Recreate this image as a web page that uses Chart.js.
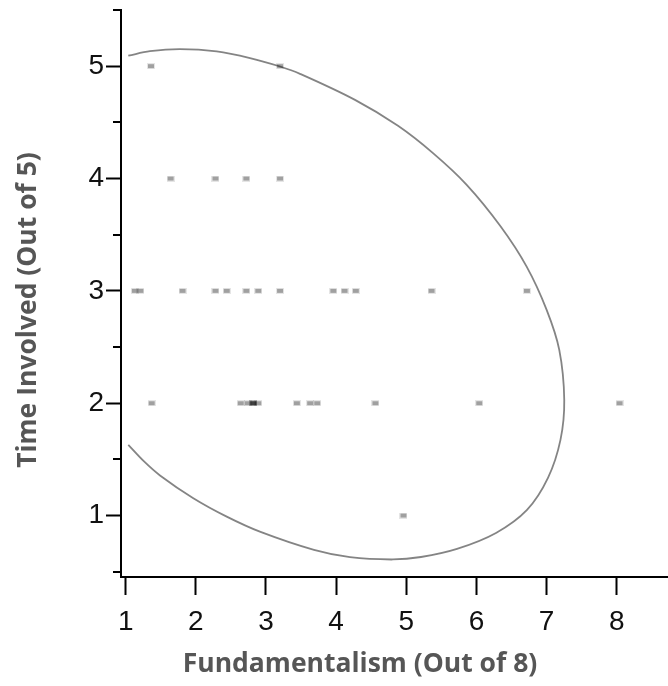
<!DOCTYPE html>
<html><head><meta charset="utf-8">
<script src="https://cdn.jsdelivr.net/npm/chart.js@4.4.1/dist/chart.umd.min.js"></script>
<style>html,body{margin:0;padding:0;background:#fff}canvas{display:block}</style>
</head><body>
<canvas id="c" width="668" height="686"></canvas>
<script>
const xTitle = 'Fundamentalism (Out of 8)';
const yTitle = 'Time Involved (Out of 5)';
const xTickValues = [1, 2, 3, 4, 5, 6, 7, 8];
const yTickValues = [1, 2, 3, 4, 5];
const yMinorTickValues = [0.5, 1.5, 2.5, 3.5, 4.5, 5.5];

// observations
const fundamentalism = [
  1.36, 3.20,
  1.64, 2.28, 2.72, 3.20,
  1.13, 1.21, 1.81, 2.28, 2.44, 2.72, 2.89, 3.20, 3.96, 4.12, 4.28, 5.36, 6.72,
  1.37, 2.64, 2.74, 2.82, 2.82, 2.82, 2.89, 3.44, 3.63, 3.73, 4.56, 6.04, 8.04,
  4.96
];
const timeInvolved = [
  5, 5,
  4, 4, 4, 4,
  3, 3, 3, 3, 3, 3, 3, 3, 3, 3, 3, 3, 3,
  2, 2, 2, 2, 2, 2, 2, 2, 2, 2, 2, 2, 2,
  1
];

// ellipse outline
const ellipseX = [1.037, 1.346, 1.774, 2.297, 2.772, 3.200, 3.485, 4.269, 4.882, 5.381, 5.861, 6.346, 6.716, 7.001, 7.181, 7.252, 7.198, 7.020, 6.721, 6.279, 5.723, 5.210, 4.810, 4.197, 3.684, 2.922, 2.440, 1.964, 1.489, 1.254, 1.037];
const ellipseY = [5.093, 5.133, 5.152, 5.131, 5.072, 4.997, 4.932, 4.700, 4.469, 4.226, 3.944, 3.573, 3.216, 2.831, 2.475, 2.029, 1.673, 1.335, 1.050, 0.845, 0.703, 0.631, 0.609, 0.629, 0.694, 0.854, 0.990, 1.154, 1.357, 1.486, 1.629];

const pointImg = document.createElement('canvas');
pointImg.width = 8; pointImg.height = 6;
(function(){
  const g = pointImg.getContext('2d');
  g.fillStyle = 'rgba(0,0,0,0.10)'; g.fillRect(0,0,8,6);
  g.fillStyle = 'rgba(0,0,0,0.30)'; g.fillRect(1,1,6,4);
})();

const decor = {
  id: 'decor',
  afterDraw(chart) {
    const {ctx} = chart;
    const ys = chart.scales.y;
    ctx.save();
    ctx.strokeStyle = '#000'; ctx.lineWidth = 2;
    yMinorTickValues.forEach(v => {
      const py = Math.round(ys.getPixelForValue(v));
      ctx.beginPath(); ctx.moveTo(chart.chartArea.left - 8, py); ctx.lineTo(chart.chartArea.left, py); ctx.stroke();
    });
    ctx.fillStyle = '#565656';
    ctx.font = 'bold 26.5px "Open Sans"';
    ctx.textAlign = 'center'; ctx.textBaseline = 'middle';
    ctx.fillText(xTitle, 360, 664);
    ctx.translate(28, 310); ctx.rotate(-Math.PI / 2);
    ctx.fillText(yTitle, 0, 0);
    ctx.restore();
  }
};

const tickFont = {family: '"Liberation Sans", Arial, sans-serif', size: 28};

new Chart(document.getElementById('c'), {
  type: 'scatter',
  data: {
    datasets: [
      {
        data: fundamentalism.map((x, i) => ({x, y: timeInvolved[i]})),
        pointStyle: pointImg, pointRadius: 3, showLine: false
      },
      {
        data: ellipseX.map((x, i) => ({x, y: ellipseY[i]})),
        showLine: true, pointRadius: 0, borderColor: 'rgba(80,80,80,0.7)', borderWidth: 1.8,
        tension: 0.35, fill: false
      }
    ]
  },
  options: {
    responsive: false, animation: false, devicePixelRatio: 1,
    layout: {autoPadding: false, padding: {top: 10, right: 0, bottom: 0, left: 0}},
    plugins: {legend: {display: false}, tooltip: {enabled: false}},
    scales: {
      x: {
        type: 'linear', min: 0.933, max: 8.731,
        afterBuildTicks: s => { s.ticks = xTickValues.map(v => ({value: v})); },
        afterFit: s => { s.height = 686 - 577; s.paddingLeft = 0; s.paddingRight = 0; },
        ticks: {font: tickFont, color: '#111', padding: 10, maxRotation: 0, autoSkip: false, callback: v => String(v)},
        grid: {drawOnChartArea: false, drawTicks: true, tickLength: 18, tickWidth: 2, tickColor: '#000'},
        border: {display: true, color: '#000', width: 2}
      },
      y: {
        type: 'linear', min: 0.453, max: 5.5,
        afterBuildTicks: s => { s.ticks = yTickValues.map(v => ({value: v})); },
        afterFit: s => { s.width = 121; s.paddingTop = 0; s.paddingBottom = 0; },
        ticks: {font: tickFont, color: '#111', padding: 2, autoSkip: false, callback: v => String(v)},
        grid: {drawOnChartArea: false, drawTicks: true, tickLength: 15, tickWidth: 2, tickColor: '#000'},
        border: {display: true, color: '#000', width: 2}
      }
    }
  },
  plugins: [decor]
});
</script>
</body></html>
